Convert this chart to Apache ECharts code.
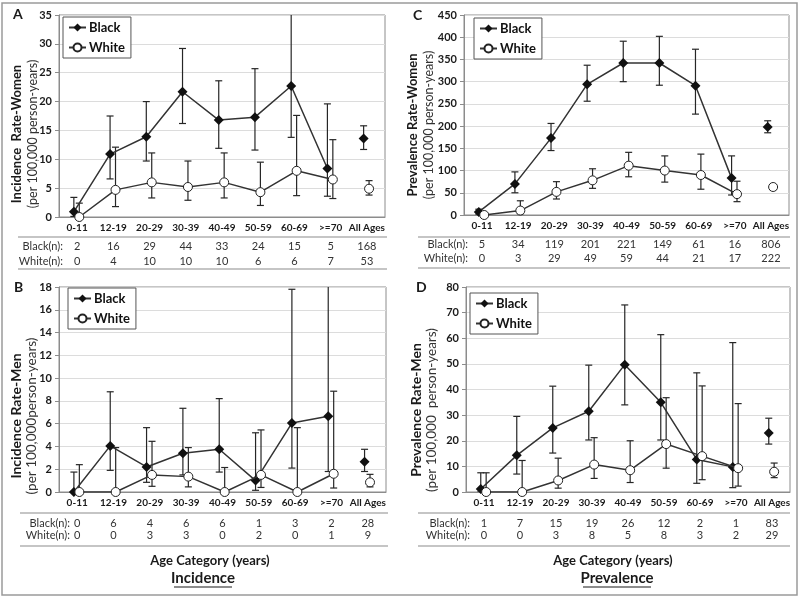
<!DOCTYPE html>
<html>
<head>
<meta charset="utf-8">
<script src="https://cdn.jsdelivr.net/npm/echarts@6/dist/echarts.min.js"></script>
<style>
html, body { margin: 0; padding: 0; background: #fff; }
#chart { width: 800px; height: 597px; }
</style>
</head>
<body>
<div id="chart"></div>
<script>
var ageLabels = ['0-11', '12-19', '20-29', '30-39', '40-49', '50-59', '60-69', '>=70', 'All Ages']

// A: incidence, women
var incWBlack = [0.9, 10.9, 13.9, 21.7, 16.8, 17.3, 22.7, 8.4, 13.6]
var incWBlackLo = [0.1, 6.6, 9.7, 16.2, 11.9, 11.6, 13.8, 3.6, 11.7]
var incWBlackHi = [3.4, 17.5, 20.0, 29.2, 23.6, 25.7, 40.0, 19.6, 15.8]
var incWWhite = [0, 4.7, 6.0, 5.2, 6.0, 4.3, 8.0, 6.5, 4.9]
var incWWhiteLo = [0, 1.8, 3.3, 2.9, 3.3, 2.0, 3.7, 3.2, 3.8]
var incWWhiteHi = [2.4, 12.1, 11.1, 9.7, 11.1, 9.5, 17.6, 13.4, 6.3]
var incWBlackN = [2, 16, 29, 44, 33, 24, 15, 5, 168]
var incWWhiteN = [0, 4, 10, 10, 10, 6, 6, 7, 53]

// B: incidence, men
var incMBlack = [0, 4.05, 2.2, 3.4, 3.75, 1.0, 6.05, 6.65, 2.65]
var incMBlackLo = [0, 1.9, 0.85, 1.5, 1.75, 0.15, 2.1, 1.8, 1.8]
var incMBlackHi = [1.75, 8.8, 5.65, 7.35, 8.2, 5.2, 17.8, 25, 3.75]
var incMWhite = [0, 0, 1.5, 1.35, 0, 1.5, 0, 1.6, 0.85]
var incMWhiteLo = [0, 0, 0.5, 0.45, 0, 0.4, 0, 0.35, 0.45]
var incMWhiteHi = [2.4, 3.9, 4.45, 3.9, 2.15, 5.45, 5.65, 8.85, 1.55]
var incMBlackN = [0, 6, 4, 6, 6, 1, 3, 2, 28]
var incMWhiteN = [0, 0, 3, 3, 0, 2, 0, 1, 9]

// C: prevalence, women
var prevWBlack = [7, 70, 173, 294, 342, 342, 291, 83, 198]
var prevWBlackLo = [2, 50, 145, 256, 300, 292, 227, 45, 185]
var prevWBlackHi = [13, 97, 206, 337, 391, 402, 373, 133, 212]
var prevWWhite = [0, 10, 52, 78, 111, 100, 90, 47, 63]
var prevWWhiteLo = [0, 3, 36, 60, 86, 74, 58, 30, 57]
var prevWWhiteHi = [4, 32, 75, 104, 141, 133, 137, 76, 68]
var prevWBlackN = [5, 34, 119, 201, 221, 149, 61, 16, 806]
var prevWWhiteN = [0, 3, 29, 49, 59, 44, 21, 17, 222]

// D: prevalence, men
var prevMBlack = [1.2, 14.3, 25.0, 31.5, 49.7, 35.0, 12.7, 9.8, 23.0]
var prevMBlackLo = [0, 7.0, 15.2, 20.3, 34.0, 20.3, 3.4, 1.7, 18.7]
var prevMBlackHi = [7.5, 29.5, 41.3, 49.5, 73.0, 61.4, 46.5, 58.3, 28.8]
var prevMWhite = [0, 0, 4.5, 10.7, 8.5, 18.7, 14.0, 9.3, 7.9]
var prevMWhiteLo = [0, 0, 1.5, 5.3, 3.7, 9.3, 4.8, 2.3, 5.6]
var prevMWhiteHi = [7.5, 12.3, 13.2, 21.2, 20.0, 36.8, 41.4, 34.5, 11.3]
var prevMBlackN = [1, 7, 15, 19, 26, 12, 2, 1, 83]
var prevMWhiteN = [0, 0, 3, 8, 5, 8, 3, 2, 29]

var FONT = 'Lato, "Open Sans", sans-serif'
var TXT = '#1a1a1a'

var panels = [
  { letter: 'A', lx: 13, ly: 14, grid: { left: 59, top: 15, width: 326, height: 202 }, max: 35, step: 5,
    b: incWBlack, bLo: incWBlackLo, bHi: incWBlackHi, w: incWWhite, wLo: incWWhiteLo, wHi: incWWhiteHi,
    bN: incWBlackN, wN: incWWhiteN, nOff: [24, 39], nGap: -4,
    t1: 'Incidence  Rate-Women', t2: '(per 100,000 person-years)', tx: 25, ty: 134, tSize: 13,
    legend: [63, 17], seps: [237, 269], sepX: [18, 387] },
  { letter: 'B', lx: 14, ly: 287, grid: { left: 59, top: 287, width: 327, height: 205 }, max: 18, step: 2,
    b: incMBlack, bLo: incMBlackLo, bHi: incMBlackHi, w: incMWhite, wLo: incMWhiteLo, wHi: incMWhiteHi,
    bN: incMBlackN, wN: incMWhiteN, nOff: [26, 38], nGap: -11,
    t1: 'Incidence Rate-Men', t2: '(per 100,000person-years)', tx: 24, ty: 416, tSize: 14,
    legend: [68, 288], seps: [513, 546], sepX: [20, 388] },
  { letter: 'C', lx: 413, ly: 15, grid: { left: 464, top: 15, width: 325, height: 200 }, max: 450, step: 50,
    b: prevWBlack, bLo: prevWBlackLo, bHi: prevWBlackHi, w: prevWWhite, wLo: prevWWhiteLo, wHi: prevWWhiteHi,
    bN: prevWBlackN, wN: prevWWhiteN, nOff: [24, 38], nGap: -4,
    t1: 'Prevalence Rate-Women', t2: '(per 100,000 person-years)', tx: 421, ty: 125, tSize: 13,
    legend: [474, 18], seps: [237, 268], sepX: [418, 790] },
  { letter: 'D', lx: 416, ly: 287, grid: { left: 466, top: 287, width: 324, height: 205 }, max: 80, step: 10,
    b: prevMBlack, bLo: prevMBlackLo, bHi: prevMBlackHi, w: prevMWhite, wLo: prevMWhiteLo, wHi: prevMWhiteHi,
    bN: prevMBlackN, wN: prevMWhiteN, nOff: [26, 38], nGap: -4,
    t1: 'Prevalence Rate-Men', t2: '(per 100,000  person-years)', tx: 424, ty: 410, tSize: 14,
    legend: [470, 293], seps: [513, 546], sepX: [418, 790] }
]

var OFF_B = -0.09
var OFF_W = 0.06

function errBar (params, api) {
  var x = api.value(0)
  var hi = api.coord([x, api.value(2)])
  var lo = api.coord([x, api.value(1)])
  var cap = 3.5
  var st = { stroke: '#262626', lineWidth: 1.2 }
  return {
    type: 'group',
    children: [
      { type: 'line', shape: { x1: hi[0], y1: hi[1], x2: lo[0], y2: lo[1] }, style: st },
      { type: 'line', shape: { x1: hi[0] - cap, y1: hi[1], x2: hi[0] + cap, y2: hi[1] }, style: st },
      { type: 'line', shape: { x1: lo[0] - cap, y1: lo[1], x2: lo[0] + cap, y2: lo[1] }, style: st }
    ]
  }
}

function pts (vals, off) {
  return vals.slice(0, 8).map(function (v, i) { return [i + 1 + off, v] })
}
function errs (lo, hi, off) {
  return lo.map(function (v, i) { return [i + 1 + off, v, hi[i]] })
}

var blackItem = { color: '#111', opacity: 1 }
var whiteItem = { color: '#fff', borderColor: '#222', borderWidth: 1, opacity: 1 }

var grids = [], xAxes = [], yAxes = [], series = [], legends = [], graphics = []

panels.forEach(function (p, k) {
  grids.push(Object.assign({ show: true, borderColor: '#8c8c8c', borderWidth: 1 }, p.grid))
  var base = xAxes.length
  xAxes.push({
    type: 'category', gridIndex: k, position: 'bottom', data: ageLabels,
    axisLine: { lineStyle: { color: '#8c8c8c' } },
    axisTick: { length: 4, lineStyle: { color: '#8c8c8c' } },
    axisLabel: { interval: 0, margin: 6, fontFamily: FONT, fontSize: 10, fontWeight: 'bold', color: TXT }
  })
  xAxes.push({ type: 'value', gridIndex: k, position: 'bottom', min: 0.5, max: 9.5, show: false })
  ;[[p.bN, 'Black(n):', p.nOff[0]], [p.wN, 'White(n):', p.nOff[1]]].forEach(function (r) {
    xAxes.push({
      type: 'category', gridIndex: k, position: 'bottom', offset: r[2], data: ageLabels,
      axisLine: { show: false }, axisTick: { show: false },
      axisLabel: { interval: 0, margin: 0, fontFamily: FONT, fontSize: 11, color: '#333',
        formatter: function (v, i) { return String(r[0][i]) } },
      name: r[1], nameLocation: 'start', nameGap: p.nGap,
      nameTextStyle: { fontFamily: FONT, fontSize: 11, color: '#333', align: 'right', verticalAlign: 'top' }
    })
  })
  yAxes.push({
    type: 'value', gridIndex: k, min: 0, max: p.max, interval: p.step,
    axisLine: { show: true, lineStyle: { color: '#8c8c8c' } },
    axisTick: { show: true, length: 4, lineStyle: { color: '#8c8c8c' } },
    axisLabel: { margin: 7, fontFamily: FONT, fontSize: 11, fontWeight: 'bold', color: TXT },
    splitLine: { lineStyle: { color: '#dcdcdc' } }
  })
  var xi = base + 1
  series.push(
    { type: 'custom', xAxisIndex: xi, yAxisIndex: k, renderItem: errBar, clip: true, z: 2,
      encode: { x: 0, y: [1, 2] }, data: errs(p.bLo, p.bHi, OFF_B), silent: true },
    { type: 'custom', xAxisIndex: xi, yAxisIndex: k, renderItem: errBar, clip: true, z: 2,
      encode: { x: 0, y: [1, 2] }, data: errs(p.wLo, p.wHi, OFF_W), silent: true },
    { name: 'Black', type: 'line', xAxisIndex: xi, yAxisIndex: k, data: pts(p.b, OFF_B), z: 3,
      symbol: 'diamond', symbolSize: 10, itemStyle: blackItem,
      lineStyle: { color: '#333', width: 1.5 } },
    { name: 'White', type: 'line', xAxisIndex: xi, yAxisIndex: k, data: pts(p.w, OFF_W), z: 4,
      symbol: 'circle', symbolSize: 9, itemStyle: whiteItem,
      lineStyle: { color: '#333', width: 1.5 } },
    { name: 'Black', type: 'scatter', xAxisIndex: xi, yAxisIndex: k, data: [[9 + OFF_B, p.b[8]]], z: 5,
      symbol: 'diamond', symbolSize: 10, itemStyle: blackItem },
    { name: 'White', type: 'scatter', xAxisIndex: xi, yAxisIndex: k, data: [[9 + OFF_W, p.w[8]]], z: 5,
      symbol: 'circle', symbolSize: 9, itemStyle: whiteItem }
  )
  legends.push({
    data: ['Black', 'White'], orient: 'vertical', left: p.legend[0], top: p.legend[1],
    selectedMode: false, backgroundColor: '#fff', borderColor: '#555', borderWidth: 1,
    padding: [4, 6, 4, 5], itemGap: 7, itemWidth: 17, itemHeight: 10,
    textStyle: { fontFamily: FONT, fontSize: 13, fontWeight: 'bold', color: '#111', padding: [0, 0, 0, -2] }
  })
  graphics.push(
    { type: 'text', x: p.lx, y: p.ly, style: { text: p.letter, fontFamily: FONT, fontSize: 14, fontWeight: 'bold', fill: TXT, align: 'left', verticalAlign: 'middle' } },
    { type: 'text', x: p.tx, y: p.ty, rotation: Math.PI / 2,
      style: { text: '{b|' + p.t1 + '}\n{n|' + p.t2 + '}', align: 'center', verticalAlign: 'middle',
        rich: {
          b: { fontFamily: FONT, fontSize: p.tSize, fontWeight: 'bold', fill: TXT, lineHeight: 16 },
          n: { fontFamily: FONT, fontSize: p.tSize - 0.5, fill: '#333', lineHeight: 16 }
        } } }
  )
  p.seps.forEach(function (y) {
    graphics.push({ type: 'line', shape: { x1: p.sepX[0], y1: y, x2: p.sepX[1], y2: y }, style: { stroke: '#8c8c8c', lineWidth: 1.2 } })
  })
})

graphics.push(
  { type: 'rect', shape: { x: 2, y: 3, width: 795, height: 592 }, style: { fill: 'none', stroke: '#9a9a9a', lineWidth: 1.5 } },
  { type: 'text', x: 210, y: 561, style: { text: 'Age Category (years)', fontFamily: FONT, fontSize: 13, fontWeight: 'bold', fill: TXT, align: 'center', verticalAlign: 'middle' } },
  { type: 'text', x: 613, y: 561, style: { text: 'Age Category (years)', fontFamily: FONT, fontSize: 13, fontWeight: 'bold', fill: TXT, align: 'center', verticalAlign: 'middle' } },
  { type: 'text', x: 203, y: 578, style: { text: 'Incidence', fontFamily: FONT, fontSize: 15, fontWeight: 'bold', fill: TXT, align: 'center', verticalAlign: 'middle' } },
  { type: 'line', shape: { x1: 174, y1: 587, x2: 232, y2: 587 }, style: { stroke: TXT, lineWidth: 1.2 } },
  { type: 'text', x: 617, y: 578, style: { text: 'Prevalence', fontFamily: FONT, fontSize: 15, fontWeight: 'bold', fill: TXT, align: 'center', verticalAlign: 'middle' } },
  { type: 'line', shape: { x1: 583, y1: 587, x2: 651, y2: 587 }, style: { stroke: TXT, lineWidth: 1.2 } }
)

var chart = echarts.init(document.getElementById('chart'))
chart.setOption({
  animation: false,
  backgroundColor: '#fff',
  grid: grids,
  xAxis: xAxes,
  yAxis: yAxes,
  legend: legends,
  series: series,
  graphic: graphics
})
</script>
</body>
</html>
